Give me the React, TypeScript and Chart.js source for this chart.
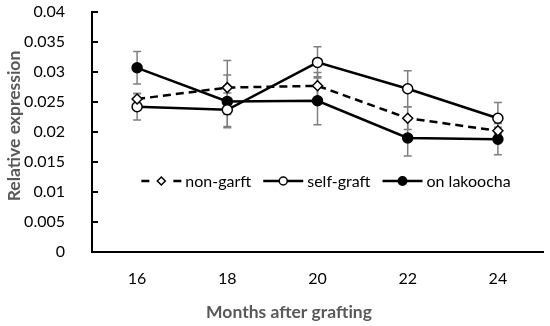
import React, { useEffect, useRef } from "react";
import { Chart, registerables } from "chart.js";

Chart.register(...registerables);

const categories = ["16", "18", "20", "22", "24"];
const nonGraft = [0.0255, 0.0274, 0.0277, 0.0223, 0.0202];
const selfGraft = [0.0242, 0.0237, 0.0316, 0.0272, 0.0223];
const lakoocha = [0.0307, 0.0251, 0.0252, 0.019, 0.0188];
const nonGraftErr = [0.0009, 0.0045, 0.0022, 0.0019, 0.0006];
const selfGraftErr = [0.0022, 0.0028, 0.0026, 0.003, 0.0026];
const lakoochaErr = [0.0027, 0.0044, 0.004, 0.003, 0.0026];
const seriesNames = ["non-garft", "self-graft", "on lakoocha"];
const yTicks = [0, 0.005, 0.01, 0.015, 0.02, 0.025, 0.03, 0.035, 0.04];
const xTitle = "Months after grafting";
const yTitle = "Relative expression";

const FONT = "Lato";

const errorArrays = [nonGraftErr, selfGraftErr, lakoochaErr];

const errorBarPlugin = {
  id: "errorBars",
  beforeDatasetsDraw(chart: any) {
    const ctx = chart.ctx;
    const x = chart.scales.x;
    const y = chart.scales.y;
    ctx.save();
    ctx.strokeStyle = "#7f7f7f";
    ctx.lineWidth = 1.5;
    chart.data.datasets.forEach((ds: any, di: number) => {
      const errs = errorArrays[di];
      ds.data.forEach((v: number, i: number) => {
        const px = x.getPixelForValue(i);
        const top = y.getPixelForValue(v + errs[i]);
        const bot = y.getPixelForValue(v - errs[i]);
        ctx.beginPath();
        ctx.moveTo(px, top);
        ctx.lineTo(px, bot);
        ctx.moveTo(px - 4, top);
        ctx.lineTo(px + 4, top);
        ctx.moveTo(px - 4, bot);
        ctx.lineTo(px + 4, bot);
        ctx.stroke();
      });
    });
    ctx.restore();
  },
};

function drawMarker(ctx: any, kind: string, x: number, y: number) {
  ctx.save();
  ctx.lineWidth = 1.5;
  ctx.strokeStyle = "#000";
  ctx.setLineDash([]);
  ctx.beginPath();
  if (kind === "diamond") {
    const r = 4;
    ctx.moveTo(x, y - r);
    ctx.lineTo(x + r, y);
    ctx.lineTo(x, y + r);
    ctx.lineTo(x - r, y);
    ctx.closePath();
    ctx.fillStyle = "#fff";
  } else {
    ctx.arc(x, y, kind === "open" ? 4 : 4.2, 0, Math.PI * 2);
    ctx.fillStyle = kind === "open" ? "#fff" : "#000";
  }
  ctx.fill();
  ctx.stroke();
  ctx.restore();
}

const decorPlugin = {
  id: "decor",
  afterDraw(chart: any) {
    const ctx = chart.ctx;
    const y = chart.scales.y;
    const area = chart.chartArea;
    ctx.save();
    ctx.strokeStyle = "#000";
    ctx.lineWidth = 2;
    yTicks.forEach((t) => {
      if (t === 0) return;
      const py = Math.round(y.getPixelForValue(t));
      ctx.beginPath();
      ctx.moveTo(area.left, py);
      ctx.lineTo(area.left + 6, py);
      ctx.stroke();
    });
    // axis titles
    ctx.fillStyle = "#595959";
    ctx.font = `bold 17.5px ${FONT}`;
    ctx.textAlign = "center";
    ctx.textBaseline = "middle";
    ctx.fillText(xTitle, 289, 312);
    ctx.save();
    ctx.translate(14, 126);
    ctx.rotate(-Math.PI / 2);
    ctx.fillText(yTitle, 0, 0);
    ctx.restore();
    // legend
    ctx.textAlign = "left";
    ctx.font = `16px ${FONT}`;
    ctx.fillStyle = "#000";
    const symW = 40;
    const gapText = 4;
    const gapItem = 12;
    const widths = seriesNames.map((n) => ctx.measureText(n).width);
    const total = widths.reduce((a, b) => a + b, 0) + 3 * (symW + gapText) + 2 * gapItem;
    let cx = 326 - total / 2;
    const ly = 181;
    const kinds = ["diamond", "open", "filled"];
    seriesNames.forEach((n, i) => {
      ctx.save();
      ctx.strokeStyle = "#000";
      ctx.lineWidth = 2.5;
      if (i === 0) {
        ctx.beginPath();
        ctx.moveTo(cx, ly);
        ctx.lineTo(cx + 8, ly);
        ctx.moveTo(cx + symW - 8, ly);
        ctx.lineTo(cx + symW, ly);
        ctx.stroke();
      } else {
        ctx.beginPath();
        ctx.moveTo(cx, ly);
        ctx.lineTo(cx + symW, ly);
        ctx.stroke();
      }
      ctx.restore();
      drawMarker(ctx, kinds[i], cx + symW / 2, ly);
      ctx.fillStyle = "#000";
      ctx.fillText(n, cx + symW + gapText, ly + 1);
      cx += symW + gapText + widths[i] + gapItem;
    });
    ctx.restore();
  },
};

export default function App() {
  const ref = useRef<HTMLCanvasElement>(null);
  useEffect(() => {
    if (!ref.current) return;
    const base = {
      borderColor: "#000",
      borderWidth: 2.5,
      pointBorderColor: "#000",
      pointBorderWidth: 1.5,
      pointHoverRadius: 4,
      fill: false,
      tension: 0,
    };
    const chart = new Chart(ref.current, {
      type: "line",
      data: {
        labels: categories,
        datasets: [
          {
            ...base,
            label: seriesNames[0],
            data: nonGraft,
            borderDash: [8, 5],
            pointStyle: "rectRot",
            pointRadius: 5,
            pointBackgroundColor: "#fff",
          },
          {
            ...base,
            label: seriesNames[1],
            data: selfGraft,
            pointStyle: "circle",
            pointRadius: 5,
            pointBackgroundColor: "#fff",
          },
          {
            ...base,
            label: seriesNames[2],
            data: lakoocha,
            pointStyle: "circle",
            pointRadius: 5,
            pointBackgroundColor: "#000",
          },
        ],
      },
      options: {
        animation: false,
        responsive: false,
        devicePixelRatio: 1,
        layout: { autoPadding: false, padding: { left: 0, right: 7, top: 12, bottom: 0 } },
        plugins: {
          legend: { display: false },
          tooltip: { enabled: false },
        },
        scales: {
          x: {
            type: "category",
            offset: true,
            grid: { display: false },
            border: { display: true, color: "#000", width: 2 },
            ticks: {
              font: { family: FONT, size: 16 },
              color: "#000",
              padding: 9,
            },
            title: { display: false },
            afterFit: (s: any) => {
              s.height = 74;
              s.paddingLeft = 0;
              s.paddingRight = 0;
            },
          },
          y: {
            min: 0,
            max: 0.04,
            grid: { display: false },
            border: { display: true, color: "#000", width: 2 },
            afterBuildTicks: (s: any) => {
              s.ticks = yTicks.map((v) => ({ value: v }));
            },
            ticks: {
              font: { family: FONT, size: 16 },
              color: "#000",
              padding: 19,
              callback: (v: any) => String(Number(Number(v).toFixed(3))),
            },
            title: { display: false },
            afterFit: (s: any) => {
              s.width = 92;
              s.paddingTop = 0;
              s.paddingBottom = 0;
            },
          },
        },
      },
      plugins: [errorBarPlugin, decorPlugin],
    });
    return () => chart.destroy();
  }, []);
  return (
    <div style={{ position: "fixed", left: 0, top: 0, width: 550, height: 326, background: "#fff" }}>
      <canvas ref={ref} width={550} height={326} />
    </div>
  );
}
